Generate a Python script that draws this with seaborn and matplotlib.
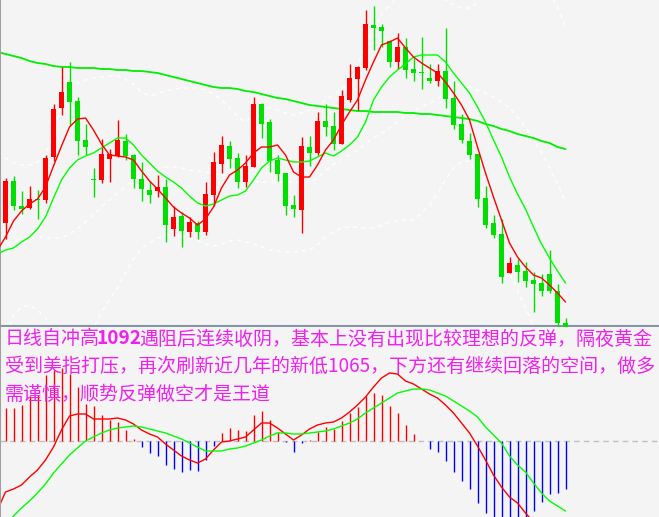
import numpy as np
import seaborn as sns
import matplotlib.pyplot as plt

# daily candles (price units), one per bar, oldest first
opens = [1077.7, 1081.9, 1079.4, 1079.2, 1080.1, 1080.0, 1084.3, 1089.2, 1091.8, 1089.9,
         1086.0, 1082.1, 1082.0, 1084.1, 1084.4, 1085.9, 1084.5, 1082.1, 1081.0, 1080.9,
         1081.3, 1077.1, 1078.4, 1076.8, 1077.7, 1076.8, 1080.5, 1083.6, 1085.4, 1084.2,
         1081.8, 1083.3, 1089.6, 1087.8, 1084.0, 1082.7, 1079.5, 1079.0, 1085.3, 1084.7,
         1087.9, 1087.4, 1085.6, 1090.0, 1092.1, 1093.2, 1097.5, 1097.3, 1095.9, 1093.8,
         1095.3, 1093.1, 1092.8, 1092.2, 1091.9, 1092.9, 1090.2, 1087.6, 1085.9, 1084.6,
         1080.2, 1077.7, 1076.6, 1072.7, 1073.5, 1072.9, 1072.0, 1071.7, 1072.6, 1070.9,
         1067.7]
highs = [1082.2, 1082.4, 1080.9, 1081.4, 1081.0, 1084.5, 1089.6, 1093.3, 1093.8, 1090.3,
         1087.6, 1083.2, 1086.1, 1085.1, 1088.0, 1086.6, 1084.6, 1083.8, 1081.9, 1082.5,
         1082.1, 1079.4, 1078.8, 1078.3, 1077.9, 1081.8, 1084.8, 1086.4, 1085.9, 1084.7,
         1084.5, 1090.3, 1089.7, 1088.1, 1084.5, 1082.7, 1080.5, 1086.3, 1086.4, 1088.8,
         1089.6, 1088.8, 1091.0, 1093.6, 1093.4, 1099.0, 1099.4, 1097.6, 1096.0, 1096.7,
         1096.2, 1094.2, 1096.3, 1093.6, 1093.6, 1097.2, 1091.9, 1088.6, 1086.7, 1084.6,
         1081.4, 1078.5, 1078.1, 1074.3, 1074.1, 1073.8, 1072.8, 1072.6, 1075.0, 1071.6,
         1068.2]
lows = [1076.1, 1079.0, 1078.6, 1079.1, 1078.1, 1079.7, 1083.9, 1088.5, 1087.5, 1084.5,
        1084.5, 1080.3, 1081.7, 1081.8, 1084.3, 1084.0, 1081.2, 1079.9, 1079.7, 1080.3,
        1075.8, 1076.4, 1075.3, 1076.3, 1076.1, 1076.5, 1079.4, 1082.7, 1083.2, 1081.2,
        1081.3, 1083.3, 1086.2, 1082.8, 1081.9, 1078.5, 1078.3, 1076.7, 1083.4, 1084.5,
        1086.4, 1085.0, 1085.6, 1089.8, 1089.0, 1093.0, 1095.0, 1095.3, 1093.3, 1093.1,
        1092.2, 1091.9, 1091.1, 1091.7, 1091.4, 1089.2, 1087.1, 1085.7, 1084.1, 1079.3,
        1077.2, 1076.2, 1071.7, 1072.7, 1071.8, 1071.3, 1068.8, 1070.4, 1070.7, 1066.0,
        1067.2]
closes = [1081.9, 1079.4, 1079.1, 1080.1, 1080.0, 1084.2, 1089.1, 1090.8, 1089.8, 1085.9,
          1085.3, 1082.0, 1084.6, 1084.6, 1086.0, 1084.4, 1082.1, 1081.1, 1080.5, 1081.3,
          1077.5, 1078.3, 1076.9, 1077.8, 1076.8, 1080.6, 1083.8, 1085.5, 1084.1, 1081.8,
          1083.4, 1089.6, 1087.6, 1083.9, 1082.6, 1079.4, 1079.1, 1085.4, 1084.7, 1087.9,
          1087.3, 1085.6, 1090.4, 1092.2, 1093.3, 1097.6, 1097.2, 1096.9, 1093.8, 1095.3,
          1093.0, 1092.7, 1092.7, 1091.9, 1092.9, 1090.1, 1087.5, 1086.0, 1084.5, 1080.1,
          1077.5, 1076.5, 1072.3, 1073.7, 1072.8, 1071.9, 1071.6, 1070.9, 1070.9, 1067.7,
          1067.3]

# overlay lines as drawn (first value is the bar just left of the window)
ma5 = [1075.0, 1076.3, 1077.9, 1078.9, 1079.6, 1080.1, 1081.3, 1083.4, 1085.4, 1087.3,
       1088.1, 1088.2, 1087.0, 1085.6, 1084.5, 1084.4, 1084.3, 1084.0, 1082.9, 1081.9,
       1081.1, 1080.2, 1079.3, 1078.7, 1078.2, 1077.5, 1078.1, 1079.3, 1081.2, 1082.5,
       1083.0, 1083.7, 1084.7, 1085.3, 1085.3, 1085.5, 1084.5, 1082.8, 1082.3, 1082.3,
       1083.5, 1085.0, 1086.0, 1087.5, 1088.8, 1090.0, 1092.0, 1093.8, 1095.5, 1095.8,
       1096.2, 1095.2, 1094.3, 1093.7, 1093.2, 1092.7, 1091.8, 1090.7, 1089.5, 1088.0,
       1085.3, 1082.7, 1080.3, 1078.0, 1075.7, 1074.3, 1073.3, 1072.5, 1072.2, 1071.5,
       1070.7, 1069.8]
ma10 = [1074.6, 1075.0, 1075.2, 1075.8, 1076.3, 1077.1, 1078.3, 1080.2, 1082.0, 1083.2,
        1084.0, 1084.4, 1084.7, 1085.2, 1085.7, 1086.2, 1086.2, 1085.5, 1084.5, 1083.7,
        1082.9, 1082.3, 1081.8, 1081.2, 1080.4, 1079.7, 1079.4, 1079.6, 1080.0, 1080.4,
        1080.5, 1080.9, 1082.0, 1083.2, 1083.9, 1084.2, 1084.0, 1083.8, 1083.8, 1083.9,
        1084.3, 1084.7, 1084.4, 1084.9, 1085.5, 1086.3, 1087.8, 1090.0, 1091.3, 1092.3,
        1093.0, 1093.6, 1094.3, 1094.5, 1094.5, 1094.5, 1093.8, 1092.7, 1091.7, 1090.7,
        1089.3, 1087.8, 1086.0, 1084.3, 1082.3, 1080.6, 1079.1, 1077.3, 1075.6, 1074.2,
        1072.9, 1071.7]
ma60 = [1094.8, 1094.6, 1094.4, 1094.2, 1093.9, 1093.7, 1093.6, 1093.4, 1093.3, 1093.3,
        1093.2, 1093.2, 1093.2, 1093.1, 1093.1, 1093.0, 1093.0, 1092.9, 1092.9, 1092.8,
        1092.7, 1092.5, 1092.3, 1092.1, 1091.9, 1091.7, 1091.5, 1091.3, 1091.2, 1091.2,
        1091.1, 1090.9, 1090.8, 1090.6, 1090.4, 1090.2, 1090.1, 1089.9, 1089.7, 1089.5,
        1089.4, 1089.3, 1089.2, 1089.1, 1089.0, 1088.9, 1088.9, 1088.8, 1088.8, 1088.8,
        1088.8, 1088.7, 1088.7, 1088.6, 1088.6, 1088.5, 1088.4, 1088.3, 1088.2, 1088.1,
        1087.9, 1087.6, 1087.4, 1087.1, 1086.9, 1086.6, 1086.4, 1086.2, 1085.9, 1085.7,
        1085.3, 1085.1]
boll_up = [1085.0, 1084.2, 1083.7, 1083.5, 1083.5, 1083.8, 1084.5, 1086.7, 1089.8, 1091.2,
           1091.7, 1092.0, 1092.2, 1092.3, 1092.4, 1092.4, 1092.1, 1091.6, 1090.8, 1090.4,
           1090.6, 1090.9, 1091.1, 1091.2, 1091.2, 1091.2, 1091.0, 1090.6, 1090.0, 1089.2,
           1088.4, 1087.8, 1088.5, 1089.2, 1089.2, 1089.0, 1088.7, 1088.5, 1088.7, 1089.0,
           1089.4, 1090.0, 1090.5, 1091.1, 1091.7, 1093.5, 1095.5, 1097.2, 1098.5, 1099.5,
           1100.2, 1100.5, 1100.6, 1100.6, 1100.5, 1100.3, 1100.0, 1099.5, 1099.2, 1099.2,
           1099.7, 1100.6, 1102.0, 1103.5, 1104.5, 1104.5, 1104.0, 1103.0, 1101.8, 1100.8,
           1099.2, 1097.4]
boll_mid = [1075.3, 1075.5, 1075.8, 1076.2, 1076.4, 1076.4, 1076.2, 1076.2, 1076.2, 1076.6,
            1077.1, 1077.8, 1078.5, 1079.3, 1080.0, 1080.7, 1081.3, 1082.0, 1082.6, 1083.0,
            1083.2, 1083.3, 1083.3, 1083.2, 1083.0, 1082.9, 1082.8, 1082.6, 1082.5, 1082.4,
            1082.2, 1082.0, 1081.9, 1081.8, 1081.8, 1081.8, 1081.8, 1081.8, 1081.8, 1081.8,
            1082.2, 1082.9, 1083.6, 1084.1, 1084.5, 1085.0, 1085.6, 1086.2, 1086.7, 1087.2,
            1087.8, 1088.4, 1088.9, 1089.3, 1089.7, 1090.1, 1090.7, 1091.2, 1091.4, 1091.3,
            1091.0, 1090.7, 1090.3, 1089.8, 1089.2, 1088.3, 1087.3, 1086.0, 1084.7, 1083.2,
            1081.6, 1079.8]
boll_low = [1065.0, 1066.2, 1068.5, 1069.3, 1069.5, 1069.0, 1068.2, 1066.8, 1065.0, 1064.2,
            1064.5, 1065.7, 1067.2, 1068.8, 1070.0, 1071.2, 1072.7, 1074.1, 1075.1, 1075.7,
            1076.2, 1076.5, 1076.6, 1076.4, 1076.2, 1075.9, 1075.6, 1075.4, 1075.6, 1075.9,
            1076.0, 1075.8, 1075.6, 1075.3, 1075.0, 1074.9, 1074.8, 1074.8, 1074.9, 1075.0,
            1075.5, 1076.3, 1076.8, 1077.2, 1077.3, 1077.3, 1077.2, 1077.2, 1077.5, 1077.8,
            1077.9, 1078.0, 1078.0, 1078.7, 1079.5, 1080.7, 1082.0, 1083.2, 1083.8, 1083.9,
            1082.5, 1080.0, 1077.0, 1074.5, 1072.8, 1071.0, 1069.2, 1067.4, 1065.5, 1063.5,
            1061.5, 1060.0]

# MACD panel, one value per bar
macd_hist = [0.33, 0.33, 0.36, 0.45, 0.46, 0.66, 0.71, 0.73, 0.67, 0.54,
             0.37, 0.35, 0.26, 0.21, 0.19, 0.11, 0.02, -0.06, -0.12, -0.15,
             -0.24, -0.28, -0.31, -0.29, -0.30, -0.19, -0.05, 0.08, 0.13, 0.11,
             0.10, 0.26, 0.30, 0.21, 0.09, -0.01, -0.11, -0.02, 0.01, 0.09,
             0.14, 0.12, 0.20, 0.28, 0.34, 0.45, 0.48, 0.46, 0.35, 0.28,
             0.16, 0.07, 0.00, -0.08, -0.11, -0.20, -0.31, -0.40, -0.48, -0.62,
             -0.72, -0.80, -0.82, -0.80, -0.78, -0.76, -0.70, -0.61, -0.53, -0.52,
             -0.48]
dif = [-0.69, -0.51, -0.48, -0.44, -0.36, -0.29, -0.19, -0.06, 0.11, 0.25,
       0.27, 0.27, 0.22, 0.22, 0.22, 0.23, 0.21, 0.17, 0.11, 0.07,
       0.04, -0.03, -0.09, -0.15, -0.19, -0.22, -0.18, -0.09, -0.01, 0.00,
       0.02, 0.04, 0.11, 0.18, 0.18, 0.13, 0.07, 0.01, 0.06, 0.12,
       0.16, 0.18, 0.19, 0.23, 0.29, 0.36, 0.44, 0.54, 0.63, 0.68,
       0.67, 0.60, 0.57, 0.52, 0.47, 0.43, 0.36, 0.28, 0.18, 0.08,
       -0.05, -0.19, -0.34, -0.46, -0.56, -0.62, -0.72, -0.81]
dea = [-0.84, -0.75, -0.67, -0.60, -0.52, -0.43, -0.32, -0.23, -0.14, -0.07,
       0.00, 0.04, 0.08, 0.11, 0.13, 0.14, 0.15, 0.14, 0.12, 0.10,
       0.08, 0.05, 0.02, -0.02, -0.06, -0.10, -0.10, -0.10, -0.08, -0.07,
       -0.05, -0.02, 0.01, 0.05, 0.08, 0.08, 0.07, 0.07, 0.08, 0.09,
       0.10, 0.12, 0.15, 0.18, 0.22, 0.28, 0.33, 0.38, 0.43, 0.48,
       0.50, 0.52, 0.52, 0.51, 0.48, 0.45, 0.40, 0.35, 0.30, 0.24,
       0.14, 0.06, -0.02, -0.15, -0.24, -0.31, -0.42, -0.52, -0.60, -0.65,
       -0.70]

# note text, split into (piece, bold) runs per line
note_lines = [[("日线自冲高", False), ("1092", True),
               ("遇阻后连续收阴，基本上没有出现比较理想的反弹，隔夜黄金", False)],
              [("受到美指打压，再次刷新近几年的新低1065，下方还有继续回落的空间，做多", False)],
              [("需谨慎，顺势反弹做空才是王道", False)]]

BG = "#f4f4f4"
UP = "#ff0000"
DOWN = "#00e000"

sns.set_theme(style="white")
plt.rcParams['font.family'] = ['Noto Sans CJK SC', 'DejaVu Sans']

W, H = 659, 517
fig = plt.figure(figsize=(W / 100, H / 100), dpi=100, facecolor=BG)
ax = fig.add_axes([0, (H - 326) / H, 1, 326 / H], facecolor=BG)
ax2 = fig.add_axes([0, 0, 1, (H - 327) / H], facecolor=BG)

idx = np.arange(len(opens))
o, h, l, c = map(np.array, (opens, highs, lows, closes))
col = np.where(c >= o, UP, DOWN)
ma_x = np.arange(-1, len(opens))

# bollinger bands, faint white dashes
for band in (boll_up, boll_mid, boll_low):
    sns.lineplot(x=ma_x, y=band, ax=ax, color="white", lw=1,
                 linestyle=(0, (3, 3)), zorder=1)

# candles
ax.vlines(idx, l, h, colors=col, lw=1, clip_on=False, zorder=3)
body = np.maximum(np.abs(c - o), 0.12)
ax.bar(idx, body, bottom=np.minimum(o, c), width=0.625, color=col,
       linewidth=0, zorder=4, clip_on=False)

sns.lineplot(x=ma_x, y=ma60, ax=ax, color="#00ee00", lw=1.3, zorder=2)
sns.lineplot(x=ma_x, y=ma10, ax=ax, color="#00ff00", lw=1, zorder=5)
sns.lineplot(x=ma_x, y=ma5, ax=ax, color="#ff0000", lw=1, zorder=5)

# bar i sits on pixel column 5 + 8*i (centre at +0.5)
xl = (-0.6875, -0.6875 + W / 8)
ax.set_xlim(*xl)
ax.set_ylim(1100 - 32.6, 1100)

# MACD
hist = np.array(macd_hist)
ax2.vlines(idx, 0, hist, colors=np.where(hist >= 0, "#ff0000", "#0000ff"), lw=1)
ax2.axhline(0, color="#c0c0c0", lw=1, ls=(0, (4, 3)), zorder=0)
sns.lineplot(x=np.arange(-1, len(dif) - 1), y=dif, ax=ax2, color="#ff0000", lw=1)
sns.lineplot(x=np.arange(len(dea)), y=dea, ax=ax2, color="#00ff00", lw=1)
ax2.set_xlim(*xl)
ax2.set_ylim(-0.76, 1.14)

for a in (ax, ax2):
    a.set_xticks([])
    a.set_yticks([])
    a.set_xlabel("")
    a.set_ylabel("")
    for s in a.spines.values():
        s.set_visible(False)
    a.spines["left"].set_visible(True)
    a.spines["left"].set_color("#a0a0a0")
    a.spines["left"].set_linewidth(1.5)
ax.spines["bottom"].set_visible(True)
ax.spines["bottom"].set_color("#8494a6")
ax.spines["bottom"].set_linewidth(1.5)

# text runs laid out left to right, measuring each piece
renderer = fig.canvas.get_renderer()
for k, runs in enumerate(note_lines):
    x = 5
    y = 1 - (339 + 27.5 * k) / H
    for piece, bold in runs:
        t = fig.text(x / W, y, piece, color="#f020f0", fontsize=13.7,
                     fontweight="bold" if bold else "normal",
                     ha="left", va="center", zorder=10)
        x += t.get_window_extent(renderer).width - 3

fig.savefig("out.png", dpi=100, facecolor=BG)
